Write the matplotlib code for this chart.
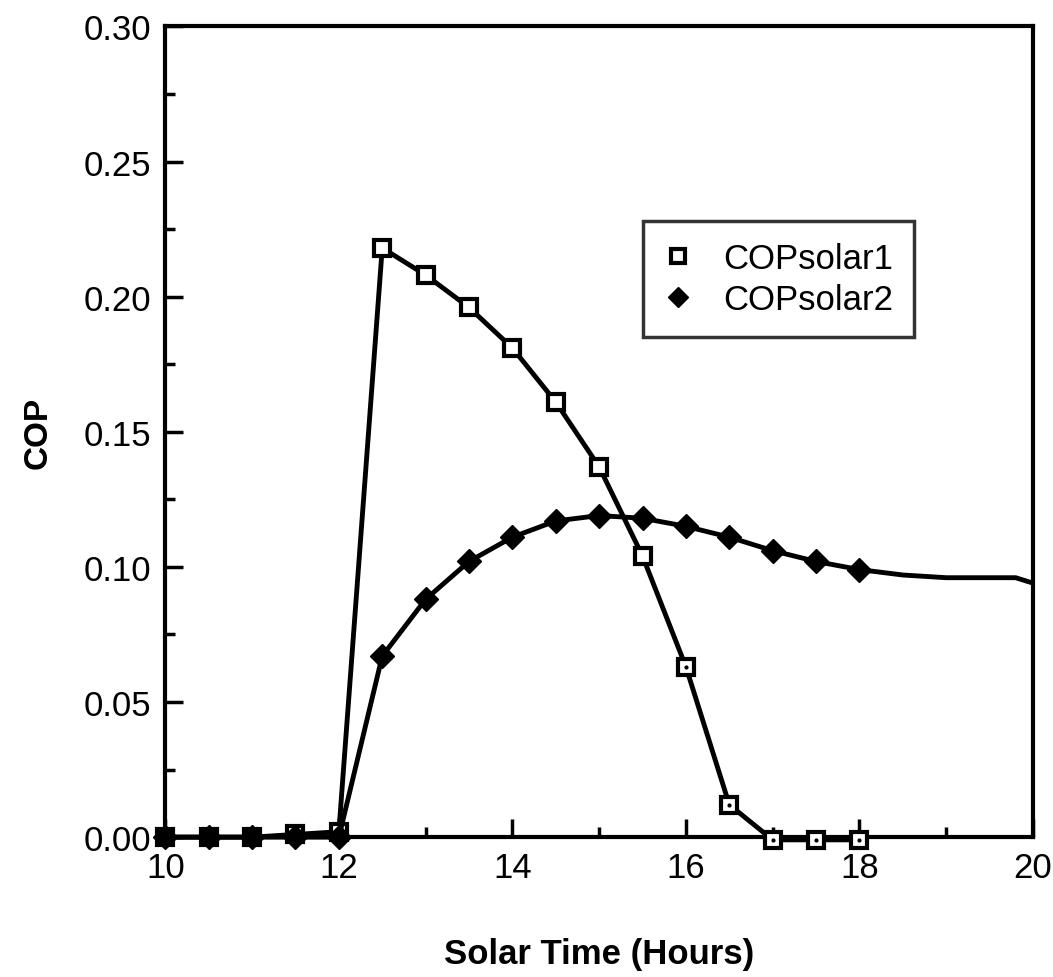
import matplotlib.pyplot as plt
from matplotlib.ticker import MultipleLocator

plt.rcParams['font.family'] = ['Liberation Sans', 'DejaVu Sans']

# solar time (hours), half-hour samples
hours = [10, 10.5, 11, 11.5, 12, 12.5, 13, 13.5, 14, 14.5, 15, 15.5, 16, 16.5, 17, 17.5, 18]
cop_solar1 = [0.0, 0.0, 0.0, 0.001, 0.002, 0.218, 0.208, 0.196, 0.181, 0.161, 0.137,
              0.104, 0.063, 0.012, -0.001, -0.001, -0.001]
cop_solar2 = [0.0, 0.0, 0.0, 0.0, 0.0, 0.067, 0.088, 0.102, 0.111, 0.117, 0.119,
              0.118, 0.115, 0.111, 0.106, 0.102, 0.099]

# COPsolar2 curve continues past the last marker
tail_hours = [18, 18.5, 19, 19.5, 19.8, 20]
tail_cop2 = [0.099, 0.097, 0.096, 0.096, 0.096, 0.094]

fig = plt.figure(figsize=(10.53, 9.78), dpi=100)
ax = fig.add_axes([0.157, 0.143, 0.824, 0.829])

ax.plot(tail_hours, tail_cop2, color='black', linewidth=3.5)
ax.plot(hours, cop_solar1, color='black', linewidth=3.5, marker='s', markersize=12,
        markerfacecolor='white', markeredgecolor='black', markeredgewidth=3,
        label='COPsolar1', zorder=4, clip_on=False)
ax.plot(hours, cop_solar2, color='black', linewidth=3.5, marker='D', markersize=12,
        markerfacecolor='black', markeredgecolor='black', label='COPsolar2', zorder=5,
        clip_on=False)
# small dot inside the open squares
ax.plot(hours[12:], cop_solar1[12:], linestyle='none', marker='.', markersize=4,
        color='black', zorder=6, clip_on=False)

ax.set_xlim(10, 20)
ax.set_ylim(0, 0.30)
ax.xaxis.set_major_locator(MultipleLocator(2))
ax.xaxis.set_minor_locator(MultipleLocator(1))
ax.yaxis.set_major_locator(MultipleLocator(0.05))
ax.yaxis.set_minor_locator(MultipleLocator(0.025))
ax.yaxis.set_major_formatter(plt.FuncFormatter(lambda v, p: f'{v:.2f}'))

ax.tick_params(which='major', direction='in', length=13, width=2.5, labelsize=25, pad=10)
ax.tick_params(which='minor', direction='in', length=7, width=2.5)
for s in ax.spines.values():
    s.set_linewidth(3)

ax.set_xlabel('Solar Time (Hours)', fontsize=25, fontweight='bold', labelpad=38)
ax.set_ylabel('COP', fontsize=24, fontweight='bold', labelpad=22)

leg = ax.legend(loc='upper left', bbox_to_anchor=(0.551, 0.76), borderaxespad=0,
                fontsize=25, frameon=True, fancybox=False, edgecolor='black',
                handlelength=0.8, handletextpad=0.9, borderpad=0.6, labelspacing=0.25)
leg.get_frame().set_linewidth(2.5)
for h in leg.legend_handles:
    h.set_linestyle('none')
    h.set_markersize(10)

fig.savefig('out.png', dpi=100)
